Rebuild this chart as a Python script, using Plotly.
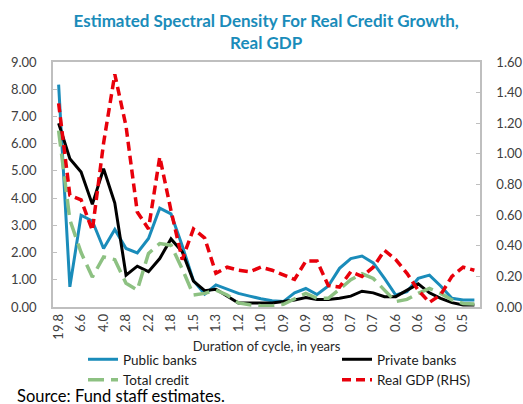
import plotly.graph_objects as go

# Category labels: duration of cycle (years) for each frequency
periods = ["19.8", "9.9", "6.6", "5.0", "4.0", "3.3", "2.8", "2.5", "2.2", "2.0",
           "1.8", "1.7", "1.5", "1.4", "1.3", "1.2", "1.2", "1.1", "1.0", "1.0",
           "0.9", "0.9", "0.9", "0.8", "0.8", "0.8", "0.7", "0.7", "0.7", "0.7",
           "0.6", "0.6", "0.6", "0.6", "0.6", "0.6", "0.5", "0.5"]

public_banks = [8.17, 0.74, 3.37, 3.16, 2.15, 2.85, 2.15, 1.99, 2.52, 3.63,
                3.42, 2.25, 0.97, 0.47, 0.81, 0.66, 0.50, 0.40, 0.30, 0.23,
                0.20, 0.52, 0.68, 0.46, 0.77, 1.42, 1.78, 1.87, 1.62, 1.05,
                0.44, 0.56, 1.05, 1.17, 0.77, 0.32, 0.26, 0.26]

private_banks = [6.75, 5.45, 4.96, 3.77, 5.08, 3.82, 1.17, 1.50, 1.30, 1.78,
                 2.50, 2.03, 0.95, 0.60, 0.65, 0.40, 0.15, 0.15, 0.15, 0.15,
                 0.20, 0.26, 0.35, 0.28, 0.28, 0.32, 0.40, 0.58, 0.52, 0.38,
                 0.38, 0.62, 0.85, 0.52, 0.32, 0.16, 0.07, 0.07]

total_credit = [6.48, 3.20, 2.00, 1.10, 1.84, 1.74, 0.87, 0.62, 1.97, 2.33,
                2.27, 1.40, 0.44, 0.50, 0.62, 0.44, 0.15, 0.08, 0.05, 0.04,
                0.10, 0.30, 0.50, 0.32, 0.32, 0.65, 1.00, 1.22, 1.05, 0.62,
                0.20, 0.28, 0.50, 0.68, 0.50, 0.26, 0.13, 0.11]

real_gdp = [1.33, 0.73, 0.70, 0.50, 1.07, 1.52, 1.18, 0.62, 0.51, 0.98,
            0.63, 0.31, 0.51, 0.45, 0.22, 0.26, 0.24, 0.23, 0.26, 0.24,
            0.21, 0.18, 0.30, 0.30, 0.14, 0.13, 0.23, 0.20, 0.26, 0.37,
            0.31, 0.22, 0.11, 0.03, 0.08, 0.20, 0.26, 0.24]

x = list(range(len(periods)))
label_idx = x[::2]
label_txt = periods[::2]
boundaries = [i + 0.5 for i in x[:-1]]

AXIS_GRAY = "#BFBFBF"
TXT = "#404040"
FONT = "Lato"

fig = go.Figure()
fig.add_trace(go.Scatter(x=x, y=public_banks, name="Public banks", mode="lines",
                         line=dict(color="#1A8CBA", width=3), legend="legend"))
fig.add_trace(go.Scatter(x=x, y=private_banks, name="Private banks", mode="lines",
                         line=dict(color="#000000", width=3), legend="legend2"))
fig.add_trace(go.Scatter(x=x, y=total_credit, name="Total credit", mode="lines",
                         line=dict(color="#8DC182", width=3.5, dash="16px,7px"),
                         legend="legend"))
fig.add_trace(go.Scatter(x=x, y=real_gdp, name="Real GDP (RHS)", mode="lines",
                         yaxis="y2",
                         line=dict(color="#E8000B", width=3.5, dash="9px,5px"),
                         legend="legend2"))

fig.update_layout(
    width=523, height=404,
    margin=dict(l=53, r=43, t=62, b=97, autoexpand=False),
    paper_bgcolor="white", plot_bgcolor="white",
    font=dict(family=FONT, size=13, color=TXT),
    showlegend=True,
    title=dict(
        text="<b>Estimated Spectral Density For Real Credit Growth,<br>Real GDP</b>",
        font=dict(family=FONT, size=17, color="#1A8CBA"),
        xref="container", x=0.509, xanchor="center",
        yref="container", y=1 - 27 / 404, yanchor="top",
    ),
    xaxis=dict(
        range=[-0.5, len(periods) - 0.5], automargin=False,
        tickmode="array", tickvals=label_idx, ticktext=label_txt,
        tickangle=-90, ticks="", showgrid=False, zeroline=False,
        showline=True, linecolor=AXIS_GRAY, linewidth=1.5, mirror=True,
        tickfont=dict(family=FONT, size=13, color=TXT),
        title=dict(text="Duration of cycle, in years",
                   font=dict(family=FONT, size=13, color="#262626"), standoff=3),
    ),
    xaxis3=dict(
        overlaying="x", anchor="y", side="bottom", automargin=False,
        range=[-0.5, len(periods) - 0.5],
        tickmode="array", tickvals=boundaries, ticks="inside", ticklen=4,
        tickcolor=AXIS_GRAY, tickwidth=1, showticklabels=False,
        showgrid=False, zeroline=False, showline=False,
    ),
    yaxis=dict(
        range=[0, 9], dtick=1, tickformat=".2f", automargin=False,
        ticks="inside", ticklen=4, tickcolor=AXIS_GRAY,
        showgrid=False, zeroline=False,
        showline=True, linecolor=AXIS_GRAY, linewidth=1.5,
        ticklabelstandoff=12,
        tickfont=dict(family=FONT, size=13, color=TXT),
    ),
    yaxis2=dict(
        range=[0, 1.6], dtick=0.2, tickformat=".2f", automargin=False,
        overlaying="y", side="right", anchor="x",
        ticks="inside", ticklen=4, tickcolor=AXIS_GRAY,
        showgrid=False, zeroline=False,
        showline=True, linecolor=AXIS_GRAY, linewidth=1.5,
        ticklabelstandoff=12,
        tickfont=dict(family=FONT, size=13, color=TXT),
    ),
    legend=dict(
        xref="container", yref="container",
        x=83 / 523, y=1 - 344 / 404, xanchor="left", yanchor="top",
        orientation="v", bgcolor="rgba(0,0,0,0)",
        font=dict(family=FONT, size=13.5, color="#1A1A1A"),
        tracegroupgap=0,
    ),
    legend2=dict(
        xref="container", yref="container",
        x=337 / 523, y=1 - 344 / 404, xanchor="left", yanchor="top",
        orientation="v", bgcolor="rgba(0,0,0,0)",
        font=dict(family=FONT, size=13.5, color="#1A1A1A"),
        tracegroupgap=0,
    ),
    annotations=[dict(
        text="Source: Fund staff estimates.",
        xref="paper", yref="paper",
        x=(15 - 53) / 427, y=(307 - 396) / 245,
        xanchor="left", yanchor="middle", showarrow=False,
        font=dict(family=FONT, size=16.5, color="#000000"),
    )],
)

fig.write_html("out.html",
               config={"displayModeBar": False},
               post_script="document.body.style.margin='0px';"
                           "document.body.style.overflow='hidden';")
